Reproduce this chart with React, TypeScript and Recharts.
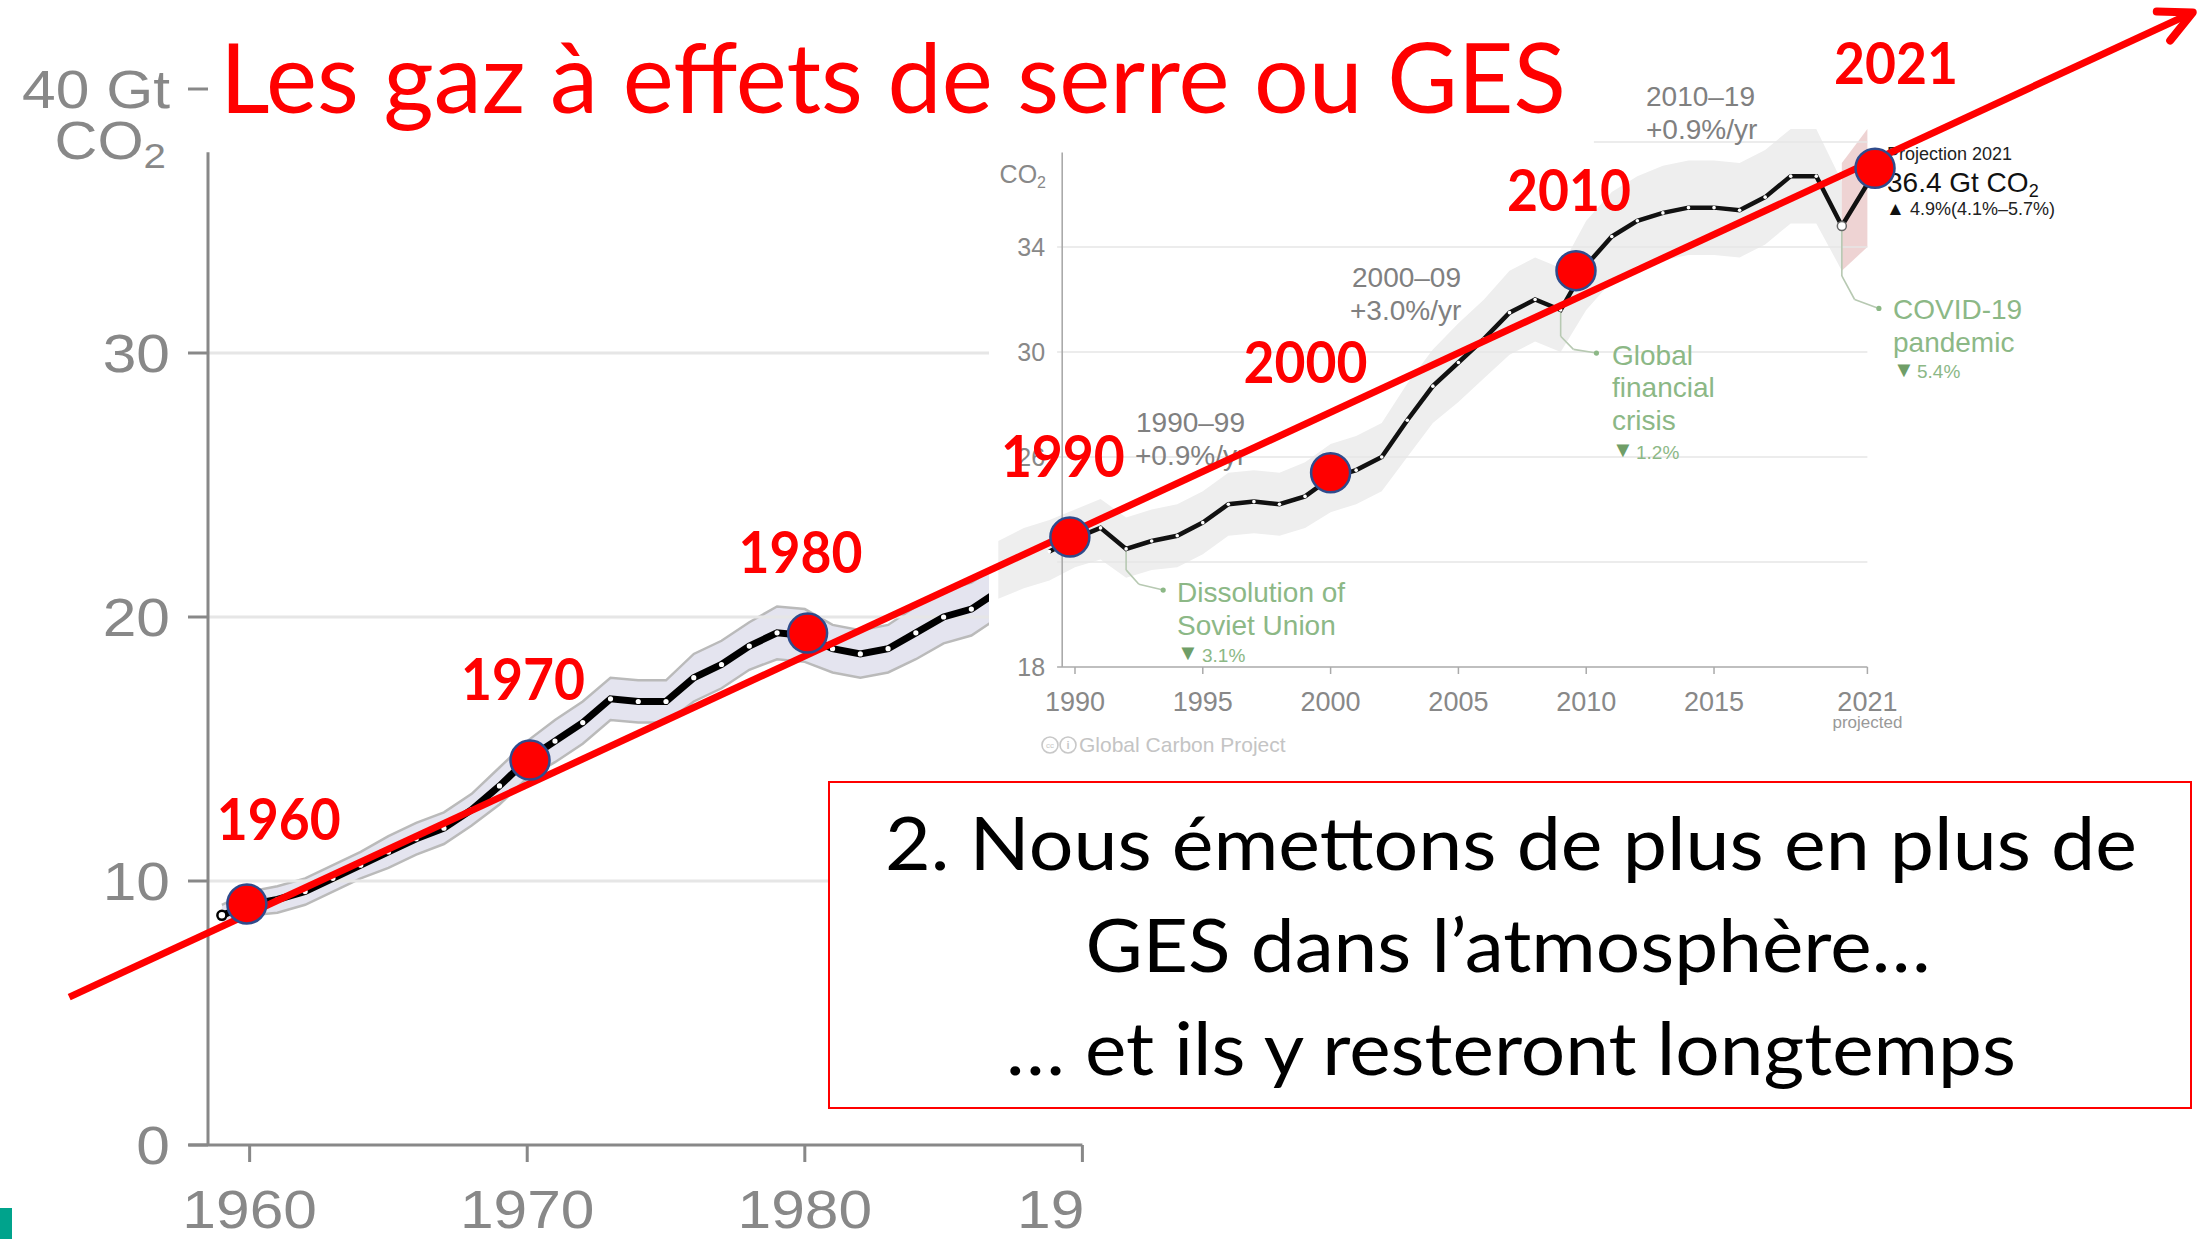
import React from 'react';
import { ComposedChart, Line, Area, XAxis, YAxis, ReferenceLine, ReferenceDot, Scatter } from 'recharts';

const W = 2202;
const H = 1239;
const ARIAL = "'Liberation Sans', Arial, sans-serif";
const CALIBRI = "Lato, 'Open Sans', sans-serif";
const RED = '#ff0000';
const GREY_TXT = '#808080';
const GREEN = '#8cb886';
const GREEN_DARK = '#6f9e67';
const LEADER = '#b7c9b2';
const STRETCH = 1.12; // the slide's axis text is a bit wider than Arial

// --- main chart, 1959–1987 (Gt CO2)
const mainYears = [1959, 1960, 1961, 1962, 1963, 1964, 1965, 1966, 1967, 1968, 1969, 1970, 1971, 1972, 1973, 1974, 1975, 1976, 1977, 1978, 1979, 1980, 1981, 1982, 1983, 1984, 1985, 1986, 1987];
const mainCo2 = [8.7, 9.1, 9.3, 9.6, 10.1, 10.6, 11.1, 11.6, 12.0, 12.7, 13.6, 14.6, 15.3, 16.0, 16.9, 16.8, 16.8, 17.7, 18.2, 18.9, 19.4, 19.3, 18.8, 18.6, 18.8, 19.4, 20.0, 20.3, 21.0];
const mainLow = [8.3, 8.7, 8.8, 9.1, 9.6, 10.1, 10.5, 11.0, 11.4, 12.1, 12.9, 13.9, 14.5, 15.2, 16.1, 16.0, 16.0, 16.8, 17.3, 18.0, 18.4, 18.3, 17.9, 17.7, 17.9, 18.4, 19.0, 19.3, 20.0];
const mainHigh = [9.1, 9.6, 9.8, 10.1, 10.6, 11.1, 11.7, 12.2, 12.6, 13.3, 14.3, 15.3, 16.1, 16.8, 17.7, 17.6, 17.6, 18.6, 19.1, 19.8, 20.4, 20.3, 19.7, 19.5, 19.7, 20.4, 21.0, 21.3, 22.0];
const mainYearTicks = [1960, 1970, 1980, 1990];
const mainYearLabels = ['1960', '1970', '1980', '19'];
const mainValueTicks = [0, 10, 20, 30, 40];
const mainGridValues = [10, 20, 30];

// --- inset (Global Carbon Project), 1987–2021
const insetYears = [1987, 1988, 1989, 1990, 1991, 1992, 1993, 1994, 1995, 1996, 1997, 1998, 1999, 2000, 2001, 2002, 2003, 2004, 2005, 2006, 2007, 2008, 2009, 2010, 2011, 2012, 2013, 2014, 2015, 2016, 2017, 2018, 2019, 2020, 2021];
const insetCo2 = [null, null, 22.4, 22.9, 23.3, 22.5, 22.8, 23.0, 23.5, 24.2, 24.3, 24.2, 24.5, 25.2, 25.5, 26.0, 27.4, 28.7, 29.6, 30.5, 31.5, 32.0, 31.6, 33.3, 34.4, 35.0, 35.3, 35.5, 35.5, 35.4, 35.9, 36.7, 36.7, 34.8, 36.4];
const insetLow = [20.6, 21.0, 21.3, 21.8, 22.1, 21.4, 21.7, 21.8, 22.3, 23.0, 23.1, 23.0, 23.3, 23.9, 24.2, 24.7, 26.0, 27.3, 28.1, 29.0, 29.9, 30.4, 30.0, 31.6, 32.7, 33.3, 33.5, 33.7, 33.7, 33.6, 34.1, 34.9, 34.9, 33.1, null];
const insetHigh = [22.8, 23.3, 23.6, 24.0, 24.4, 23.7, 24.0, 24.2, 24.7, 25.4, 25.5, 25.4, 25.8, 26.5, 26.8, 27.3, 28.8, 30.1, 31.1, 32.0, 33.1, 33.6, 33.2, 35.0, 36.1, 36.7, 37.1, 37.3, 37.3, 37.2, 37.7, 38.5, 38.5, 36.5, null];
const projLow = [null, null, null, null, null, null, null, null, null, null, null, null, null, null, null, null, null, null, null, null, null, null, null, null, null, null, null, null, null, null, null, null, null, 33.1, 34.0];
const projHigh = [null, null, null, null, null, null, null, null, null, null, null, null, null, null, null, null, null, null, null, null, null, null, null, null, null, null, null, null, null, null, null, null, null, 37.2, 38.5];
const insetYearTicks = [1990, 1995, 2000, 2005, 2010, 2015, 2021];
const insetYearLabels = ['1990', '1995', '2000', '2005', '2010', '2015', '2021'];
const insetGridValues = [22, 26, 30, 34];
const insetLabelledValues = [26, 30, 34]; // the "22" label sits under the band

// leader lines of the inset call-outs (year, Gt)
const sovietLeader = [[1992, 22.45], [1992, 21.7], [1992.5, 21.15], [1993.45, 20.93]];
const crisisLeader = [[2009, 31.55], [2009, 30.6], [2009.5, 30.1], [2010.4, 29.96]];
const covidLeader = [[2020, 34.7], [2020, 32.9], [2020.5, 32.0], [2021.45, 31.66]];

// red markers put on top of the slide
const earlyMarkerLabels = ['1960', '1970', '1980'];
const earlyMarkerYears = [1959.9, 1970.1, 1980.1];
const earlyMarkerValues = [9.13, 14.58, 19.39];
const lateMarkerLabels = ['1990', '2000', '2010', '2021'];
const lateMarkerYears = [1989.8, 2000.0, 2009.6, 2021.3];
const lateMarkerValues = [22.95, 25.4, 33.1, 37.0];
const trendYears = [1953.5, 2030];
const trendValues = [5.6, 42.9];

const mainData = mainYears.map((year, i) => ({ year, co2: mainCo2[i], band: [mainLow[i], mainHigh[i]] }));
const insetData = insetYears.map((year, i) => ({
  year,
  co2: insetCo2[i],
  band: insetLow[i] == null ? null : [insetLow[i], insetHigh[i]],
  proj: projLow[i] == null ? null : [projLow[i], projHigh[i]],
}));
const earlyMarkers = earlyMarkerLabels.map((label, i) => ({ label, year: earlyMarkerYears[i], value: earlyMarkerValues[i] }));
const lateMarkers = lateMarkerLabels.map((label, i) => ({ label, year: lateMarkerYears[i], value: lateMarkerValues[i] }));

// label offset from dot centre (px)
const LABEL_NUDGE: Record<string, [number, number]> = {
  '1960': [32, -64],
  '1970': [-7, -60],
  '1980': [-7, -60],
  '1990': [-7, -60],
  '2000': [-25, -90],
  '2010': [-7, -60],
  '2021': [21, -84],
};

const layer: React.CSSProperties = { position: 'absolute', left: 0, top: 0 };

const renderMainDot = (p: any) => {
  if (p.cy == null) return <g key={p.index} />;
  if (p.index === 0) {
    return <circle key={p.index} cx={p.cx} cy={p.cy} r={4.5} fill="#fff" stroke="#000" strokeWidth={2.5} />;
  }
  return <circle key={p.index} cx={p.cx} cy={p.cy} r={2.6} fill="#fff" stroke="none" />;
};

const renderInsetDot = (p: any) => {
  if (p.value == null || p.cy == null) return <g key={p.index} />;
  const covid = p.payload.year === 2020;
  return (
    <circle key={p.index} cx={p.cx} cy={p.cy} r={covid ? 4.5 : 1.8} fill="#fff" stroke={covid ? '#666' : 'none'} strokeWidth={1.5} />
  );
};

const MainXTick = (p: any) => {
  const i = mainYearTicks.indexOf(p.payload.value);
  const last = i === mainYearTicks.length - 1;
  const x = last ? p.x + 2 : p.x;
  return (
    <text
      transform={`translate(${x},${p.y}) scale(${STRETCH},1)`}
      dy="0.71em"
      textAnchor={last ? 'end' : 'middle'}
      fill="#888"
      fontSize={54}
      fontFamily={ARIAL}
    >
      {mainYearLabels[i]}
    </text>
  );
};

const MainYTick = (p: any) => {
  const v = p.payload.value;
  return (
    <text transform={`translate(${p.x},${p.y}) scale(${STRETCH},1)`} dy="0.355em" textAnchor="end" fill="#888" fontSize={54} fontFamily={ARIAL}>
      {v === 40 ? '40 Gt' : String(v)}
    </text>
  );
};

const InsetXTick = (p: any) => {
  const i = insetYearTicks.indexOf(p.payload.value);
  return (
    <g>
      <text x={p.x} y={p.y} dy="0.71em" textAnchor="middle" fill="#888" fontSize={27} fontFamily={ARIAL}>
        {insetYearLabels[i]}
      </text>
      {p.payload.value === 2021 && (
        <text x={p.x} y={p.y + 36} textAnchor="middle" fill="#999" fontSize={17} fontFamily={ARIAL}>
          projected
        </text>
      )}
    </g>
  );
};

const renderRedDot = (p: any) => {
  const lab = p.payload.label;
  const [dx, dy] = LABEL_NUDGE[lab];
  return (
    <g>
      <circle cx={p.cx} cy={p.cy} r={19.5} fill={RED} stroke="#2f4b8c" strokeWidth={2.5} />
      <text
        x={p.cx + dx}
        y={p.cy + dy}
        textAnchor="middle"
        fill={RED}
        fontFamily={CALIBRI}
        fontWeight={700}
        fontSize={57}
        textLength={124}
        lengthAdjust="spacingAndGlyphs"
      >
        {lab}
      </text>
    </g>
  );
};

const renderArrow = (p: any) => {
  const { x1, y1, x2, y2 } = p;
  const back = Math.atan2(y1 - y2, x1 - x2);
  const L = 36;
  const a = 0.46;
  const ax = x2 + L * Math.cos(back + a);
  const ay = y2 + L * Math.sin(back + a);
  const bx = x2 + L * Math.cos(back - a);
  const by = y2 + L * Math.sin(back - a);
  return (
    <g>
      <line x1={x1} y1={y1} x2={x2 + 3 * Math.cos(back)} y2={y2 + 3 * Math.sin(back)} stroke={RED} strokeWidth={7} />
      <polyline points={`${ax},${ay} ${x2},${y2} ${bx},${by}`} fill="none" stroke={RED} strokeWidth={8} strokeLinecap="round" strokeLinejoin="round" />
    </g>
  );
};

const leaderSegments = (pts: number[][], id: string) =>
  pts.slice(1).map((pt, i) => (
    <ReferenceLine
      key={`${id}-${i}`}
      segment={[{ x: pts[i][0], y: pts[i][1] }, { x: pt[0], y: pt[1] }]}
      stroke={LEADER}
      strokeWidth={1.6}
      ifOverflow="visible"
    />
  ));

function MainChart() {
  return (
    <ComposedChart width={W} height={H} data={mainData} margin={{ top: 89, right: 1119.6, bottom: 0, left: 108 }}>
      <XAxis
        type="number"
        dataKey="year"
        domain={[1958.5, 1990]}
        ticks={mainYearTicks}
        interval={0}
        height={94}
        tickSize={17}
        tickMargin={28}
        axisLine={{ stroke: '#888', strokeWidth: 3 }}
        tickLine={{ stroke: '#888', strokeWidth: 3 }}
        tick={MainXTick}
      />
      <YAxis
        type="number"
        domain={[0, 40]}
        ticks={mainValueTicks}
        interval={0}
        width={100}
        axisLine={false}
        tickLine={{ stroke: '#888', strokeWidth: 3 }}
        tickSize={20}
        tickMargin={18}
        tick={MainYTick}
      />
      {mainGridValues.map((v) => (
        <ReferenceLine key={v} y={v} stroke="#e6e6e6" strokeWidth={3} />
      ))}
      <ReferenceLine segment={[{ x: 1958.5, y: 0 }, { x: 1958.5, y: 37.6 }]} stroke="#888" strokeWidth={3} />
      <ReferenceLine segment={[{ x: 1957.8, y: 0 }, { x: 1958.5, y: 0 }]} stroke="#888" strokeWidth={3} ifOverflow="visible" />
      <Area dataKey="band" type="linear" fill="#e4e4ef" fillOpacity={1} stroke="#bababa" strokeWidth={2.5} isAnimationActive={false} />
      <Line dataKey="co2" type="linear" stroke="#000" strokeWidth={7} dot={renderMainDot} isAnimationActive={false} />
    </ComposedChart>
  );
}

function InsetChart() {
  return (
    <div style={{ position: 'absolute', left: 989, top: 60, width: 1110, height: 710, background: '#fff' }}>
      <ComposedChart width={1110} height={710} data={insetData} margin={{ top: 29.5, right: 231.6, bottom: 43, left: 9.3 }}>
        <XAxis
          type="number"
          dataKey="year"
          domain={[1987, 2021]}
          ticks={insetYearTicks}
          interval={0}
          height={60}
          axisLine={false}
          tickLine={{ stroke: '#aaa', strokeWidth: 1.5 }}
          tickSize={7}
          tickMargin={18}
          tick={InsetXTick}
        />
        <YAxis hide type="number" domain={[18, 40]} />
        {insetGridValues.map((v) => (
          <ReferenceLine
            key={v}
            segment={[{ x: 1989.3, y: v }, { x: 2021, y: v }]}
            stroke="#e6e6e6"
            strokeWidth={1.6}
            label={
              insetLabelledValues.includes(v)
                ? { value: String(v), position: 'left', offset: 12, fill: '#888', fontSize: 25, fontFamily: ARIAL }
                : undefined
            }
          />
        ))}
        <ReferenceLine segment={[{ x: 2010.3, y: 38 }, { x: 2021, y: 38 }]} stroke="#e6e6e6" strokeWidth={1.6} />
        <Area dataKey="band" type="linear" fill="#eeeeee" fillOpacity={1} stroke="none" isAnimationActive={false} />
        <Area dataKey="proj" type="linear" fill="#e8c4c4" fillOpacity={0.75} stroke="none" isAnimationActive={false} />
        <ReferenceLine
          segment={[{ x: 1989.3, y: 18 }, { x: 2021, y: 18 }]}
          stroke="#aaa"
          strokeWidth={1.6}
          label={{ value: '18', position: 'left', offset: 12, fill: '#888', fontSize: 25, fontFamily: ARIAL }}
        />
        <ReferenceLine segment={[{ x: 1989.5, y: 18 }, { x: 1989.5, y: 37.6 }]} stroke="#aaa" strokeWidth={1.6} />
        {leaderSegments(sovietLeader, 'soviet')}
        {leaderSegments(crisisLeader, 'crisis')}
        {leaderSegments(covidLeader, 'covid')}
        {[sovietLeader, crisisLeader, covidLeader].map((pts, i) => (
          <ReferenceDot key={i} x={pts[3][0]} y={pts[3][1]} r={2.6} fill={GREEN} stroke="none" ifOverflow="visible" />
        ))}
        <Line dataKey="co2" type="linear" stroke="#111" strokeWidth={4.5} dot={renderInsetDot} isAnimationActive={false} />
      </ComposedChart>
    </div>
  );
}

function InsetNotes() {
  const g = { fontFamily: ARIAL };
  return (
    <svg width={W} height={H} style={{ ...layer, pointerEvents: 'none' }}>
      <text x={1046} y={183} textAnchor="end" fill="#888" fontSize={25} {...g}>
        CO<tspan fontSize={16} dy={5}>2</tspan>
      </text>
      <text x={1136} y={432} fill={GREY_TXT} fontSize={28} {...g}>1990–99</text>
      <text x={1135} y={465} fill={GREY_TXT} fontSize={28} {...g}>+0.9%/yr</text>
      <text x={1352} y={287} fill={GREY_TXT} fontSize={28} {...g}>2000–09</text>
      <text x={1350} y={320} fill={GREY_TXT} fontSize={28} {...g}>+3.0%/yr</text>
      <text x={1646} y={106} fill={GREY_TXT} fontSize={28} {...g}>2010–19</text>
      <text x={1646} y={139} fill={GREY_TXT} fontSize={28} {...g}>+0.9%/yr</text>

      <text x={1177} y={602} fill={GREEN} fontSize={28} {...g}>Dissolution of</text>
      <text x={1177} y={635} fill={GREEN} fontSize={28} {...g}>Soviet Union</text>
      <text x={1177} y={660} fill={GREEN_DARK} fontSize={22} {...g}>▼</text>
      <text x={1202} y={662} fill={GREEN} fontSize={19} {...g}>3.1%</text>

      <text x={1612} y={365} fill={GREEN} fontSize={28} {...g}>Global</text>
      <text x={1612} y={397} fill={GREEN} fontSize={28} {...g}>financial</text>
      <text x={1612} y={430} fill={GREEN} fontSize={28} {...g}>crisis</text>
      <text x={1612} y={457} fill={GREEN_DARK} fontSize={22} {...g}>▼</text>
      <text x={1636} y={459} fill={GREEN} fontSize={19} {...g}>1.2%</text>

      <text x={1893} y={319} fill={GREEN} fontSize={28} {...g}>COVID-19</text>
      <text x={1893} y={352} fill={GREEN} fontSize={28} {...g}>pandemic</text>
      <text x={1893} y={377} fill={GREEN_DARK} fontSize={22} {...g}>▼</text>
      <text x={1917} y={378} fill={GREEN} fontSize={19} {...g}>5.4%</text>

      <text x={1887} y={160} fill="#222" fontSize={18} {...g}>Projection 2021</text>
      <text x={1887} y={192} fill="#111" fontSize={28} {...g}>
        36.4 Gt CO<tspan fontSize={18} dy={5}>2</tspan>
      </text>
      <text x={1886} y={215} fill="#111" fontSize={19} {...g}>▲</text>
      <text x={1910} y={215} fill="#222" fontSize={18} {...g}>4.9%(4.1%–5.7%)</text>

      <circle cx={1050} cy={745} r={8} fill="none" stroke="#c8c8c8" strokeWidth={1.6} />
      <text x={1050} y={748} textAnchor="middle" fill="#c8c8c8" fontSize={8} {...g}>cc</text>
      <circle cx={1068} cy={745} r={8} fill="none" stroke="#c8c8c8" strokeWidth={1.6} />
      <text x={1068} y={749} textAnchor="middle" fill="#c8c8c8" fontSize={11} fontWeight={700} {...g}>i</text>
      <text x={1079} y={752} fill="#c4c4c4" fontSize={21} {...g}>Global Carbon Project</text>
    </svg>
  );
}

function TrendOverlay() {
  return (
    <div style={layer}>
      <ComposedChart width={W} height={H} margin={{ top: 89, right: 1119.6, bottom: 94, left: 208 }}>
        <XAxis hide type="number" dataKey="year" domain={[1958.5, 1990]} />
        <YAxis hide type="number" dataKey="value" domain={[0, 40]} />
        <ReferenceLine
          segment={[{ x: trendYears[0], y: trendValues[0] }, { x: trendYears[1], y: trendValues[1] }]}
          ifOverflow="visible"
          shape={renderArrow}
        />
        <Scatter data={earlyMarkers} dataKey="value" shape={renderRedDot} isAnimationActive={false} />
      </ComposedChart>
    </div>
  );
}

function LateMarkers() {
  return (
    <div style={layer}>
      <ComposedChart width={W} height={H} margin={{ top: 89.5, right: 104.6, bottom: 99.5, left: 52.6 }}>
        <XAxis hide type="number" dataKey="year" domain={[1950, 2030]} />
        <YAxis hide type="number" dataKey="value" domain={[0, 40]} />
        <Scatter data={lateMarkers} dataKey="value" shape={renderRedDot} isAnimationActive={false} />
      </ComposedChart>
    </div>
  );
}

export default function App() {
  return (
    <div style={{ position: 'absolute', left: 0, top: 0, width: W, height: H, background: '#fff', overflow: 'hidden' }}>
      <div style={layer}>
        <MainChart />
      </div>
      <InsetChart />
      <InsetNotes />
      <TrendOverlay />
      <LateMarkers />
      <div
        style={{
          position: 'absolute',
          left: 828,
          top: 781,
          width: 1364,
          height: 328,
          boxSizing: 'border-box',
          border: '2px solid #ff0000',
          background: '#fff',
        }}
      />
      <svg width={W} height={H} style={{ ...layer, pointerEvents: 'none' }}>
        <text transform={`translate(166,159) scale(${STRETCH},1)`} textAnchor="end" fill="#888" fontSize={53} fontFamily={ARIAL}>
          CO<tspan fontSize={36} dy={9}>2</tspan>
        </text>
        <text x={220} y={113} fill={RED} fontSize={96} fontFamily={CALIBRI} textLength={1346} lengthAdjust="spacingAndGlyphs">
          Les gaz à effets de serre ou GES
        </text>
        <text x={1511} y={870} textAnchor="middle" fill="#000" fontSize={74} fontFamily={CALIBRI} textLength={1252} lengthAdjust="spacingAndGlyphs">
          2. Nous émettons de plus en plus de
        </text>
        <text x={1508} y={972} textAnchor="middle" fill="#000" fontSize={74} fontFamily={CALIBRI} textLength={845} lengthAdjust="spacingAndGlyphs">
          GES dans l’atmosphère…
        </text>
        <text x={1511} y={1075} textAnchor="middle" fill="#000" fontSize={74} fontFamily={CALIBRI} textLength={1010} lengthAdjust="spacingAndGlyphs">
          … et ils y resteront longtemps
        </text>
      </svg>
      <div style={{ position: 'absolute', left: 0, top: 1208, width: 12, height: 31, background: '#00a38c' }} />
    </div>
  );
}
